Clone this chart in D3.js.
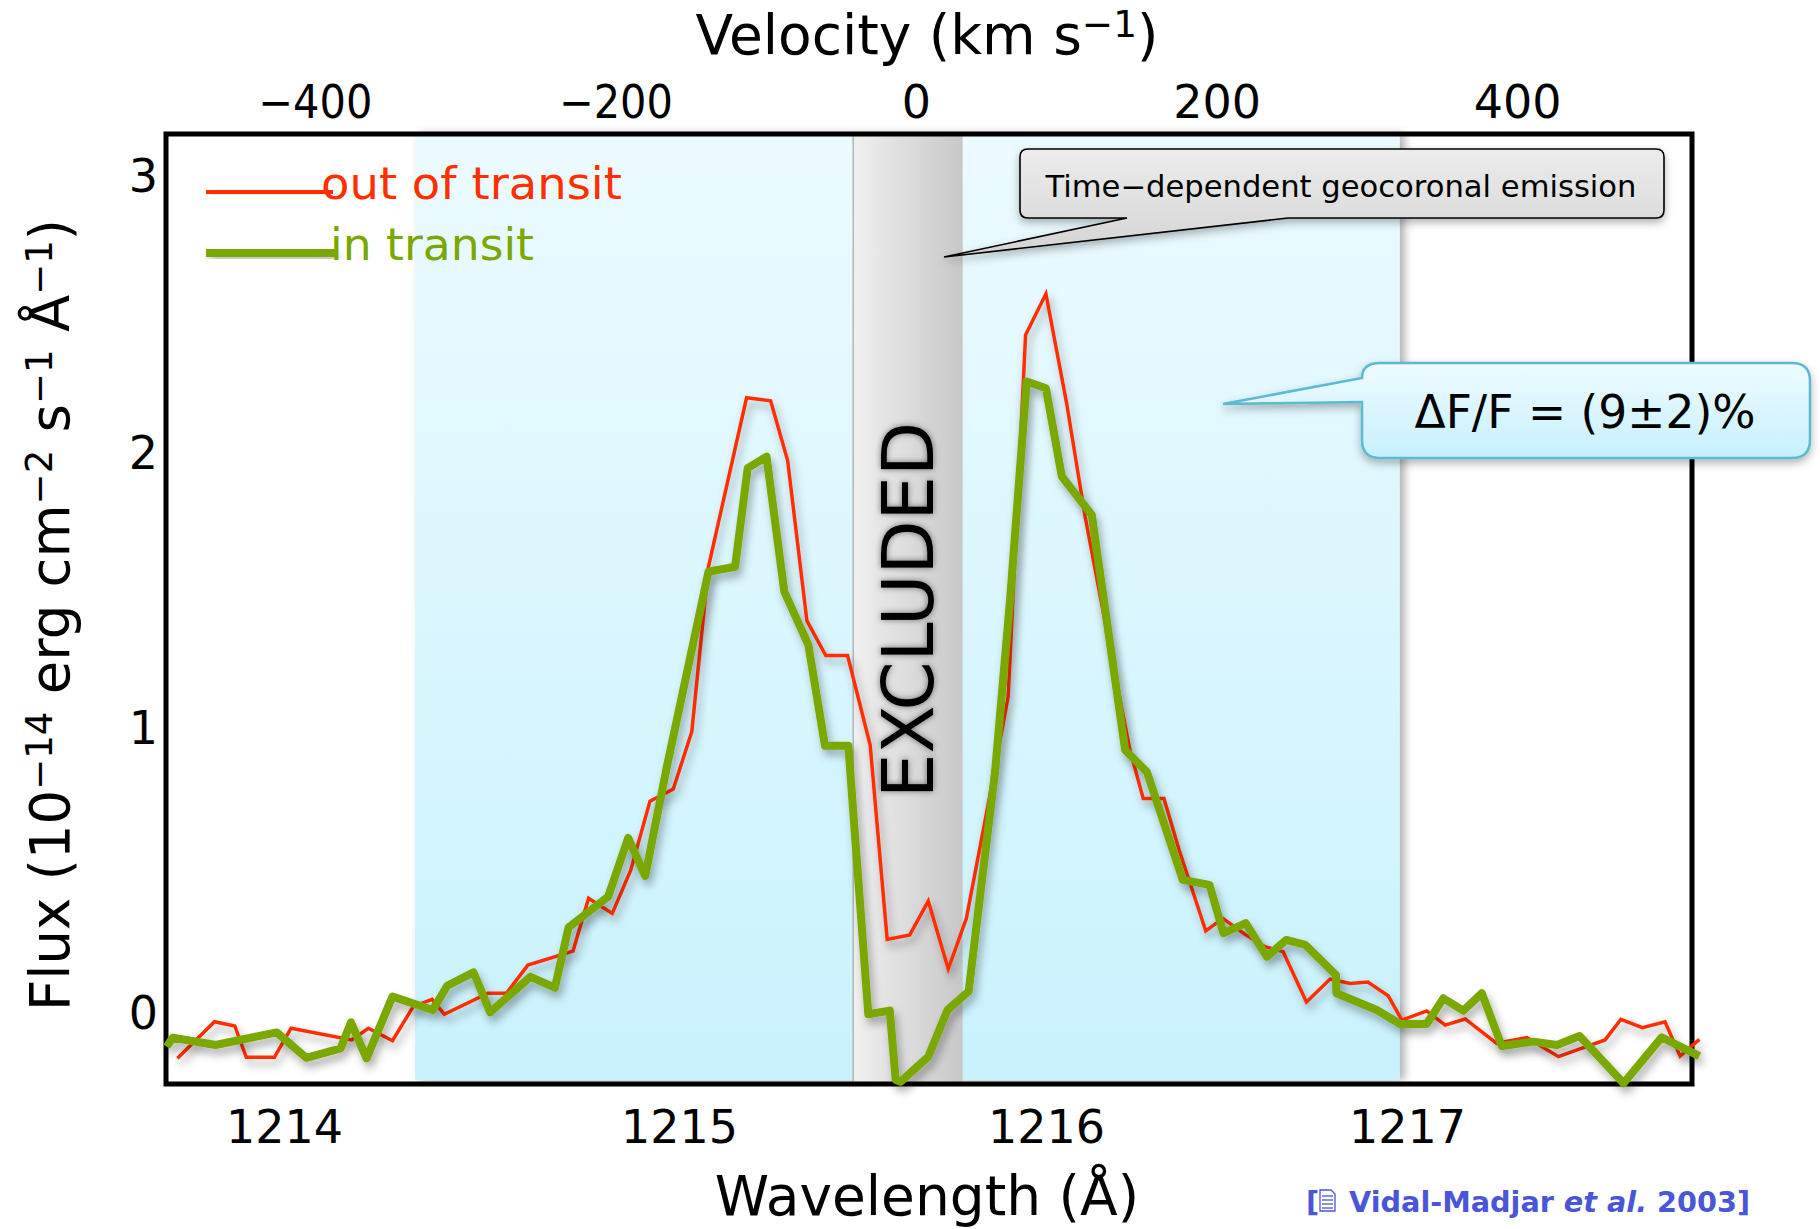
<!DOCTYPE html>
<html>
<head>
<meta charset="utf-8">
<title>Lyman alpha transit</title>
<script src="https://cdn.jsdelivr.net/npm/d3@7"></script>
<style>
  html, body { margin: 0; padding: 0; background: #fff; }
  text { font-family: "DejaVu Sans", sans-serif; }
</style>
</head>
<body>
<div id="chart-area"></div>
<script>
/*
* Lyman-alpha line of HD 209458, out of transit and in transit
*/

// values
var redWave = [1213.674,1213.774,1213.829,1213.860,1213.936,1213.981,1214.145,1214.190,1214.255,1214.311,1214.362,1214.395,1214.513,1214.563,1214.621,1214.743,1214.785,1214.849,1214.899,1214.951,1215.014,1215.064,1215.109,1215.212,1215.277,1215.323,1215.375,1215.426,1215.485,1215.546,1215.592,1215.653,1215.703,1215.757,1215.806,1215.861,1215.919,1215.966,1216.021,1216.077,1216.127,1216.185,1216.248,1216.284,1216.340,1216.381,1216.453,1216.499,1216.561,1216.613,1216.662,1216.725,1216.789,1216.843,1216.891,1216.946,1216.983,1217.050,1217.100,1217.154,1217.239,1217.321,1217.406,1217.532,1217.575,1217.633,1217.694,1217.735,1217.787];
var redFlux = [-0.166,-0.035,-0.050,-0.162,-0.162,-0.058,-0.100,-0.058,-0.103,0.019,0.045,-0.008,0.067,0.067,0.168,0.218,0.407,0.353,0.508,0.755,0.798,1.004,1.594,2.199,2.188,1.974,1.401,1.276,1.276,0.956,0.260,0.276,0.397,0.154,0.335,0.716,1.129,2.424,2.571,2.179,1.773,1.368,0.938,0.764,0.764,0.580,0.290,0.335,0.276,0.234,0.216,0.036,0.118,0.102,0.107,0.058,-0.029,0.004,-0.047,-0.025,-0.112,-0.092,-0.160,-0.100,-0.026,-0.056,-0.035,-0.158,-0.098];
var greenWave = [1213.645,1213.661,1213.777,1213.942,1214.022,1214.115,1214.143,1214.185,1214.255,1214.364,1214.403,1214.474,1214.519,1214.628,1214.694,1214.731,1214.838,1214.892,1214.938,1214.997,1215.109,1215.181,1215.215,1215.266,1215.314,1215.379,1215.424,1215.487,1215.541,1215.599,1215.615,1215.628,1215.703,1215.755,1215.812,1215.884,1215.924,1215.969,1216.021,1216.064,1216.145,1216.235,1216.294,1216.391,1216.463,1216.501,1216.561,1216.618,1216.670,1216.722,1216.805,1216.806,1216.915,1216.978,1217.050,1217.095,1217.149,1217.199,1217.253,1217.338,1217.402,1217.463,1217.582,1217.685,1217.787];
var greenFlux = [-0.124,-0.092,-0.118,-0.073,-0.164,-0.130,-0.037,-0.166,0.055,0.007,0.094,0.142,-0.001,0.126,0.087,0.303,0.413,0.623,0.487,0.881,1.576,1.594,1.947,1.988,1.505,1.314,0.953,0.953,-0.008,0.005,-0.243,-0.250,-0.160,0.007,0.073,0.866,1.475,2.257,2.233,1.917,1.779,0.938,0.859,0.473,0.455,0.282,0.318,0.198,0.258,0.240,0.132,0.067,0.007,-0.043,-0.043,0.049,0.005,0.067,-0.122,-0.106,-0.118,-0.086,-0.255,-0.091,-0.158];

var waveTicks = [1214, 1215, 1216, 1217];
var velocityTicks = [-400, -200, 0, 200, 400];
var fluxTicks = [0, 1, 2, 3];
var transitBand = [1214.316, 1216.977];
var excludedBand = [1215.500, 1215.796];

var redColor = "#ff2f00";
var greenColor = "#7aa800";

var svg = d3.select("#chart-area")
              .append("svg")
                .attr("width", 1820)
                .attr("height", 1229)
                .style("display", "block");

var frame = {left: 166, right: 1692, top: 134, bottom: 1084};

var x = d3.scaleLinear().domain([1213.643, 1217.767]).range([frame.left, frame.right]);
var y = d3.scaleLinear().domain([0, 3]).range([1012, 174]);
var velocity = d3.scaleLinear().domain([-499, 516.3]).range([frame.left, frame.right]);

// the tick labels were placed by hand in the original and sit a bit off the data scale
var waveLabel = d3.scaleLinear().domain(waveTicks).range([284, 679, 1046, 1407]);
var fluxLabel = d3.scaleLinear().domain(fluxTicks).range([1012, 727, 452, 175]);

var defs = svg.append("defs");

function gradient(id, x2, y2, stops) {
  var g = defs.append("linearGradient").attr("id", id)
    .attr("x1", 0).attr("y1", 0).attr("x2", x2).attr("y2", y2);
  stops.forEach(function(s, i) {
    g.append("stop").attr("offset", i / (stops.length - 1)).attr("stop-color", s);
  });
}
gradient("blueBand", 0, 1, ["#ecfbff", "#c9f2fd"]);
gradient("grayBand", 1, 0, ["#f0f0f0", "#dcdcdc", "#c8c8c8"]);
gradient("grayCall", 0, 1, ["#ececec", "#d4d4d4"]);
gradient("blueCall", 0, 1, ["#effbff", "#c6f0fe"]);

function shadow(id, dx, dy, blur, opacity) {
  defs.append("filter").attr("id", id)
    .attr("x", "-20%").attr("y", "-20%").attr("width", "140%").attr("height", "140%")
    .attr("filterUnits", "objectBoundingBox")
    .append("feDropShadow")
      .attr("dx", dx).attr("dy", dy).attr("stdDeviation", blur)
      .attr("flood-color", "#000").attr("flood-opacity", opacity);
}
shadow("lineShadow", 3, 6, 4, 0.32);
shadow("bandShadow", 5, 0, 4, 0.3);
shadow("callShadow", 0, 4, 4, 0.3);
shadow("wordShadow", 0, 0, 3, 0.5);

// bands
svg.append("rect")
  .attr("x", x(transitBand[0]))
  .attr("y", frame.top)
  .attr("width", x(transitBand[1]) - x(transitBand[0]))
  .attr("height", frame.bottom - frame.top - 4)
  .attr("fill", "url(#blueBand)")
  .attr("filter", "url(#bandShadow)");

svg.append("rect")
  .attr("x", x(excludedBand[0]))
  .attr("y", frame.top)
  .attr("width", x(excludedBand[1]) - x(excludedBand[0]))
  .attr("height", frame.bottom - frame.top)
  .attr("fill", "url(#grayBand)")
  .attr("stroke", "none");

svg.append("line")
  .attr("x1", x(excludedBand[0])).attr("x2", x(excludedBand[0]))
  .attr("y1", frame.top).attr("y2", frame.bottom)
  .attr("stroke", "#999").attr("stroke-width", 1);

svg.append("text")
  .attr("transform", "translate(933,798) rotate(-90)")
  .attr("font-size", 72)
  .attr("fill", "#000")
  .attr("filter", "url(#wordShadow)")
  .attr("textLength", 376)
  .attr("lengthAdjust", "spacingAndGlyphs")
  .text("EXCLUDED");

// frame
svg.append("rect")
  .attr("x", frame.left)
  .attr("y", frame.top)
  .attr("width", frame.right - frame.left)
  .attr("height", frame.bottom - frame.top)
  .attr("fill", "none")
  .attr("stroke", "#000")
  .attr("stroke-width", 5);

// axes
function styleAxis(g) {
  g.select(".domain").remove();
  g.selectAll("line").remove();
  g.selectAll("text").attr("font-family", "DejaVu Sans").attr("fill", "#000");
}

svg.append("g")
  .attr("transform", "translate(0,118)")
  .call(d3.axisTop(velocity).tickValues(velocityTicks).tickSize(0).tickPadding(0))
  .call(styleAxis)
  .selectAll("text")
    .attr("font-size", 46)
    .attr("dy", 0)
    // the minus of the original is narrower than this font's
    .attr("textLength", function(d) { return d < 0 ? 114 : null; })
    .attr("lengthAdjust", "spacingAndGlyphs");

svg.append("g")
  .attr("transform", "translate(0,1143)")
  .call(d3.axisBottom(waveLabel).tickValues(waveTicks).tickFormat(d3.format("d")).tickSize(0).tickPadding(0))
  .call(styleAxis)
  .selectAll("text").attr("font-size", 46).attr("y", 0).attr("dy", 0);

svg.append("g")
  .attr("transform", "translate(158,0)")
  .call(d3.axisLeft(fluxLabel).tickValues(fluxTicks).tickFormat(d3.format("d")).tickSize(0).tickPadding(0))
  .call(styleAxis)
  .selectAll("text").attr("font-size", 46).attr("dy", "0.36em");

// axis titles, with superscripts
function titled(sel, parts, size) {
  parts.forEach(function(p) {
    var t = sel.append("tspan").text(p[0]);
    if (p[1]) {
      t.attr("font-size", size * 0.68).attr("dy", -17);
    } else {
      t.attr("font-size", size);
      if (p[2]) t.attr("dy", 17);
    }
  });
}

titled(svg.append("text").attr("x", 927).attr("y", 54).attr("text-anchor", "middle"),
  [["Velocity (km s"], ["−1", true], [")", false, true]], 55);

titled(svg.append("text").attr("x", 927).attr("y", 1215).attr("text-anchor", "middle"),
  [["Wavelength (Å)"]], 55);

titled(svg.append("text").attr("transform", "translate(69,615) rotate(-90)").attr("text-anchor", "middle"),
  [["Flux (10"], ["−14", true], [" erg cm", false, true], ["−2", true], [" s", false, true], ["−1", true], [" Å", false, true], ["−1", true], [")", false, true]], 54.5);

// spectra
var spectrum = d3.line()
  .x(function(d) { return x(d[0]); })
  .y(function(d) { return y(d[1]); });

svg.append("path")
  .attr("d", spectrum(d3.zip(redWave, redFlux)))
  .attr("fill", "none")
  .attr("stroke", redColor)
  .attr("stroke-width", 3.5)
  .attr("filter", "url(#lineShadow)");

svg.append("path")
  .attr("d", spectrum(d3.zip(greenWave, greenFlux)))
  .attr("fill", "none")
  .attr("stroke", greenColor)
  .attr("stroke-width", 8)
  .attr("stroke-linejoin", "round")
  .attr("filter", "url(#lineShadow)");

// legend
svg.append("rect").attr("x", 206).attr("y", 190).attr("width", 127).attr("height", 4)
  .attr("fill", redColor).attr("filter", "url(#lineShadow)");
svg.append("rect").attr("x", 206).attr("y", 249).attr("width", 129).attr("height", 8)
  .attr("fill", greenColor).attr("filter", "url(#lineShadow)");
svg.append("text").attr("x", 321).attr("y", 199).attr("font-size", 45).attr("fill", redColor)
  .attr("textLength", 301).attr("lengthAdjust", "spacingAndGlyphs").text("out of transit");
svg.append("text").attr("x", 330).attr("y", 260).attr("font-size", 45).attr("fill", greenColor)
  .attr("textLength", 204).attr("lengthAdjust", "spacingAndGlyphs").text("in transit");

// callouts
svg.append("path")
  .attr("d", "M1028,149 H1656 Q1664,149 1664,157 V210 Q1664,218 1656,218 H1288 L944,257 L1127,218 H1028 Q1020,218 1020,210 V157 Q1020,149 1028,149 Z")
  .attr("fill", "url(#grayCall)")
  .attr("stroke", "#000")
  .attr("stroke-width", 1.6)
  .attr("filter", "url(#callShadow)");
svg.append("text")
  .attr("x", 1341).attr("y", 197).attr("text-anchor", "middle")
  .attr("font-size", 30).attr("fill", "#000")
  .attr("textLength", 591).attr("lengthAdjust", "spacingAndGlyphs")
  .text("Time−dependent geocoronal emission");

svg.append("path")
  .attr("d", "M1380,363 H1792 Q1810,363 1810,381 V440 Q1810,458 1792,458 H1380 Q1362,458 1362,440 V402 L1223,404 L1362,378 Q1362,363 1380,363 Z")
  .attr("fill", "url(#blueCall)")
  .attr("stroke", "#5bb9d0")
  .attr("stroke-width", 2.5)
  .attr("filter", "url(#callShadow)");
svg.append("text")
  .attr("x", 1585).attr("y", 428).attr("text-anchor", "middle")
  .attr("font-size", 46).attr("fill", "#000")
  .attr("textLength", 341).attr("lengthAdjust", "spacingAndGlyphs")
  .text("ΔF/F = (9±2)%");

// citation
var citeColor = "#4a55d8";
svg.append("text").attr("x", 1306).attr("y", 1212).attr("font-size", 29).attr("font-weight", "bold")
  .attr("fill", citeColor).text("[");
var icon = svg.append("g").attr("fill", "none").attr("stroke", citeColor).attr("stroke-width", 1.3);
icon.append("path").attr("d", "M1320,1190 H1331 L1335,1194 V1211 H1320 Z");
[1196, 1200, 1204, 1208].forEach(function(h) {
  icon.append("line").attr("x1", 1322).attr("x2", 1333).attr("y1", h).attr("y2", h);
});
var cite = svg.append("text").attr("x", 1349).attr("y", 1212).attr("font-size", 29)
  .attr("font-weight", "bold").attr("fill", citeColor)
  .attr("textLength", 401).attr("lengthAdjust", "spacingAndGlyphs");
cite.append("tspan").text("Vidal-Madjar ");
cite.append("tspan").attr("font-style", "italic").text("et al.");
cite.append("tspan").text(" 2003]");
</script>
</body>
</html>
